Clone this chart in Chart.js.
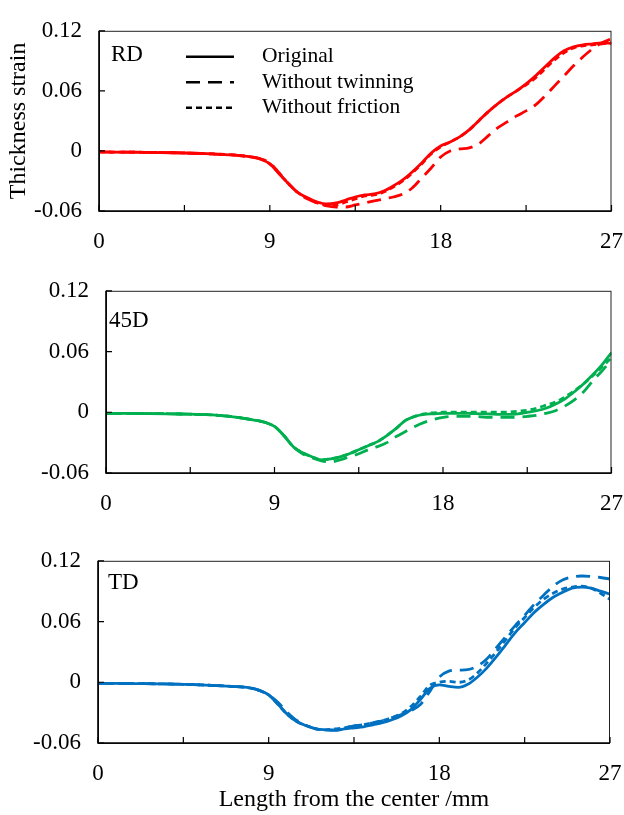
<!DOCTYPE html>
<html>
<head>
<meta charset="utf-8">
<title>Thickness strain</title>
<script src="https://cdn.jsdelivr.net/npm/chart.js@4.4.1/dist/chart.umd.min.js"></script>
<style>
  body { margin: 0; background: #fff; width: 624px; height: 815px; overflow: hidden; position: relative; }
  canvas { position: absolute; left: 0; }
</style>
</head>
<body>
<canvas id="rd-chart" width="640" height="255" style="top:0px"></canvas>
<canvas id="d45-chart" width="640" height="255" style="top:260px"></canvas>
<canvas id="td-chart" width="640" height="285" style="top:530px"></canvas>
<script>
// Distance from the center (mm)
const xs = [0, 2, 4, 6, 7, 8, 8.5, 9, 9.5, 10, 10.5, 11, 11.5, 12, 12.5, 13, 13.5, 14, 14.5, 15,
  15.5, 16, 16.5, 17, 17.5, 18, 18.5, 19, 19.5, 20, 20.5, 21, 21.5, 22, 22.5, 23, 23.5, 24,
  24.5, 25, 25.5, 26, 26.5, 27];

const seriesNames = ['Original', 'Without twinning', 'Without friction'];
const xTickLabels = [0, 9, 18, 27];
const yTickLabels = [-0.06, 0, 0.06, 0.12];

// RD
const rdOriginal = [-0.001, -0.0013, -0.0018, -0.003, -0.004, -0.006, -0.008, -0.013, -0.023, -0.033,
  -0.042, -0.047, -0.051, -0.053, -0.052, -0.049, -0.046, -0.044, -0.043, -0.040,
  -0.035, -0.029, -0.021, -0.012, -0.002, 0.005, 0.009, 0.014, 0.021, 0.030,
  0.039, 0.047, 0.054, 0.060, 0.067, 0.075, 0.084, 0.093, 0.100, 0.104,
  0.106, 0.107, 0.108, 0.1075];
const rdTwin = [-0.001, -0.0013, -0.0018, -0.003, -0.004, -0.006, -0.008, -0.012, -0.022, -0.033,
  -0.042, -0.048, -0.052, -0.055, -0.056, -0.056, -0.054, -0.052, -0.050, -0.048,
  -0.046, -0.043, -0.037, -0.027, -0.017, -0.006, 0.000, 0.002, 0.003, 0.007,
  0.015, 0.023, 0.029, 0.035, 0.040, 0.046, 0.055, 0.065, 0.075, 0.085,
  0.094, 0.102, 0.108, 0.112];
const rdFriction = [-0.001, -0.0013, -0.0018, -0.003, -0.004, -0.006, -0.008, -0.013, -0.023, -0.033,
  -0.042, -0.047, -0.052, -0.054, -0.054, -0.051, -0.048, -0.045, -0.044, -0.041,
  -0.036, -0.030, -0.022, -0.013, -0.003, 0.004, 0.009, 0.014, 0.021, 0.030,
  0.039, 0.047, 0.054, 0.060, 0.066, 0.073, 0.082, 0.091, 0.098, 0.103,
  0.105, 0.106, 0.107, 0.108];

// 45D
const d45Original = [-0.001, -0.0012, -0.0017, -0.003, -0.005, -0.008, -0.010, -0.014, -0.023, -0.034,
  -0.040, -0.044, -0.047, -0.046, -0.044, -0.041, -0.037, -0.033, -0.029, -0.023,
  -0.016, -0.008, -0.004, -0.002, -0.0015, -0.001, -0.001, -0.001, -0.0012, -0.0015,
  -0.0017, -0.002, -0.002, -0.0015, 0.000, 0.0015, 0.004, 0.008, 0.013, 0.020,
  0.028, 0.037, 0.047, 0.059];
const d45Twin = [-0.001, -0.0012, -0.0017, -0.003, -0.005, -0.008, -0.010, -0.014, -0.023, -0.034,
  -0.041, -0.045, -0.048, -0.049, -0.047, -0.044, -0.041, -0.037, -0.034, -0.030,
  -0.024, -0.019, -0.014, -0.010, -0.007, -0.005, -0.004, -0.004, -0.004, -0.0045,
  -0.005, -0.005, -0.005, -0.005, -0.004, -0.003, -0.001, 0.0015, 0.006, 0.012,
  0.020, 0.031, 0.041, 0.052];
const d45Friction = [-0.001, -0.0012, -0.0017, -0.003, -0.005, -0.008, -0.010, -0.014, -0.023, -0.034,
  -0.040, -0.044, -0.047, -0.046, -0.044, -0.041, -0.037, -0.033, -0.029, -0.023,
  -0.016, -0.008, -0.004, -0.0015, -0.0005, 0.000, 0.000, 0.000, 0.000, 0.000,
  0.000, 0.000, 0.0003, 0.001, 0.002, 0.004, 0.007, 0.010, 0.015, 0.021,
  0.028, 0.036, 0.045, 0.054];

// TD
const tdOriginal = [-0.001, -0.0013, -0.0018, -0.003, -0.004, -0.0055, -0.008, -0.0125, -0.022, -0.032,
  -0.039, -0.043, -0.046, -0.047, -0.0475, -0.046, -0.045, -0.044, -0.042, -0.040,
  -0.037, -0.033, -0.027, -0.017, -0.006, -0.0025, -0.004, -0.005, -0.002, 0.005,
  0.014, 0.025, 0.037, 0.049, 0.059, 0.069, 0.077, 0.084, 0.089, 0.093,
  0.094, 0.093, 0.090, 0.087];
const tdTwin = [-0.001, -0.0013, -0.0018, -0.003, -0.004, -0.0055, -0.008, -0.0125, -0.020, -0.030,
  -0.038, -0.043, -0.046, -0.047, -0.047, -0.045, -0.043, -0.042, -0.040, -0.038,
  -0.035, -0.032, -0.028, -0.022, -0.009, 0.005, 0.011, 0.012, 0.0125, 0.016,
  0.023, 0.034, 0.045, 0.056, 0.066, 0.077, 0.086, 0.095, 0.101, 0.104,
  0.105, 0.1045, 0.1035, 0.102];
const tdFriction = [-0.001, -0.0013, -0.0018, -0.003, -0.004, -0.0055, -0.008, -0.0125, -0.022, -0.032,
  -0.039, -0.043, -0.046, -0.047, -0.046, -0.045, -0.043, -0.042, -0.040, -0.038,
  -0.035, -0.031, -0.024, -0.014, -0.003, 0.000, 0.001, 0.000, 0.002, 0.009,
  0.019, 0.030, 0.042, 0.054, 0.064, 0.074, 0.082, 0.088, 0.092, 0.094,
  0.095, 0.093, 0.088, 0.082];

const FONT = "'Liberation Serif', 'Times New Roman', serif";
const dashes = [[], [14, 8], [6, 4]];

function toPoints(values) {
  return xs.map((x, i) => ({ x: x, y: values[i] }));
}

// frame, inward ticks, panel label and the line-style key
const panelDecor = {
  id: 'panelDecor',
  afterDraw(chart, args, opts) {
    const ctx = chart.ctx;
    const { left, right, top, bottom } = chart.chartArea;
    const xScale = chart.scales.x;
    const yScale = chart.scales.y;
    ctx.save();

    ctx.strokeStyle = '#222';
    ctx.lineWidth = 1;
    ctx.strokeRect(left + 0.5, top + 0.5, right - left - 1, bottom - top);

    ctx.strokeStyle = '#000';
    ctx.lineWidth = 1.6;
    ctx.beginPath();
    ctx.moveTo(left, top);
    ctx.lineTo(left, bottom);
    ctx.lineTo(right, bottom);
    ctx.stroke();

    ctx.lineWidth = 1.2;
    ctx.beginPath();
    xScale.ticks.forEach(t => {
      const px = xScale.getPixelForValue(t.value);
      ctx.moveTo(px, bottom);
      ctx.lineTo(px, bottom - 6);
    });
    yScale.ticks.forEach(t => {
      const py = yScale.getPixelForValue(t.value);
      ctx.moveTo(left, py);
      ctx.lineTo(left + 6, py);
    });
    ctx.stroke();

    ctx.fillStyle = '#000';
    ctx.font = '23px ' + FONT;
    ctx.textBaseline = 'middle';
    ctx.textAlign = 'left';
    ctx.fillText(opts.label, left + opts.labelDx, top + opts.labelDy);

    if (opts.legend) {
      ctx.font = '21.5px ' + FONT;
      chart.data.datasets.forEach((ds, i) => {
        const y = top + 26 + i * 25.5;
        ctx.strokeStyle = '#000';
        ctx.lineWidth = 2.4;
        ctx.setLineDash(dashes[i]);
        ctx.beginPath();
        ctx.moveTo(left + 87, y);
        ctx.lineTo(left + 135, y);
        ctx.stroke();
        ctx.setLineDash([]);
        ctx.fillText(ds.label, left + 163, y);
      });
    }
    ctx.restore();
  }
};

function makePanel(id, series, color, layout) {
  const datasets = series.map((values, i) => ({
    label: seriesNames[i],
    data: toPoints(values),
    borderColor: color,
    borderWidth: 2.8,
    borderDash: dashes[i],
    pointRadius: 0,
    fill: false,
    cubicInterpolationMode: 'monotone',
    order: 2 - i
  }));

  return new Chart(document.getElementById(id), {
    type: 'line',
    data: { datasets: datasets },
    options: {
      responsive: false,
      animation: false,
      layout: { padding: { left: 0, top: layout.top, right: layout.right, bottom: 0 } },
      plugins: {
        legend: { display: false },
        tooltip: { enabled: false },
        panelDecor: { label: layout.label, labelDx: layout.labelDx, labelDy: layout.labelDy, legend: layout.legend }
      },
      scales: {
        x: {
          type: 'linear',
          min: 0,
          max: 27,
          afterFit: s => { s.height = layout.xHeight; },
          grid: { display: false, drawTicks: false },
          border: { display: false },
          ticks: {
            stepSize: 4.5,
            autoSkip: false,
            maxRotation: 0,
            padding: 17,
            color: '#000',
            font: { family: FONT, size: 23 },
            callback: v => xTickLabels.includes(v) ? String(v) : ''
          },
          title: {
            display: !!layout.xTitle,
            text: layout.xTitle || '',
            color: '#000',
            padding: { top: 1, bottom: 1 },
            font: { family: FONT, size: 24 }
          }
        },
        y: {
          min: -0.06,
          max: 0.12,
          afterFit: s => { s.width = layout.left; },
          afterBuildTicks: s => { s.ticks = yTickLabels.map(v => ({ value: v })); },
          grid: { display: false, drawTicks: false },
          border: { display: false },
          ticks: {
            padding: 17,
            color: '#000',
            font: { family: FONT, size: 23 },
            callback: v => Math.abs(v) < 1e-9 ? '0' : v.toFixed(2)
          },
          title: {
            display: !!layout.yTitle,
            text: layout.yTitle || '',
            color: '#000',
            font: { family: FONT, size: 24 }
          }
        }
      }
    },
    plugins: [panelDecor]
  });
}

makePanel('rd-chart', [rdOriginal, rdTwin, rdFriction], '#ff0000', {
  left: 99, top: 18, right: 28, xHeight: 44,
  label: 'RD', labelDx: 12, labelDy: 24, legend: true,
  yTitle: 'Thickness strain'
});

makePanel('d45-chart', [d45Original, d45Twin, d45Friction], '#00b050', {
  left: 106, top: 23, right: 23, xHeight: 42,
  label: '45D', labelDx: 3, labelDy: 30, legend: false
});

makePanel('td-chart', [tdOriginal, tdTwin, tdFriction], '#0070c0', {
  left: 98, top: 23, right: 30, xHeight: 72,
  label: 'TD', labelDx: 10, labelDy: 22, legend: false,
  xTitle: 'Length from the center /mm'
});
</script>
</body>
</html>
